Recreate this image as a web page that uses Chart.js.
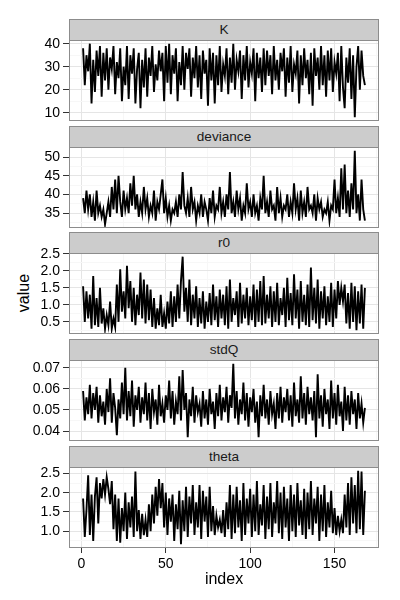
<!DOCTYPE html>
<html>
<head>
<meta charset="utf-8">
<script src="https://cdn.jsdelivr.net/npm/chart.js@4.4.0/dist/chart.umd.min.js"></script>
<style>
    body { margin: 0; background: #fff; }
    #wrap { position: relative; width: 400px; height: 600px; overflow: hidden; font-family: "Liberation Sans", Arial, sans-serif; color: #000; }
    .strip { position: absolute; left: 69px; width: 310px; height: 22px; background: #cccccc; border: 1px solid #8c8c8c; box-sizing: border-box; text-align: center; font-size: 13.6px; line-height: 20px; color: #1a1a1a; }
    canvas { position: absolute; left: 0; }
    .ylab { position: absolute; left: 24px; top: 293px; transform: translate(-50%, -50%) rotate(-90deg); font-size: 16px; white-space: nowrap; }
</style>
</head>
<body>
<div id="wrap">
    <div class="ylab">value</div>
</div>
<script>
// trace values, index 1..168
const kValues = [
    38, 22, 35, 28, 40, 14, 33, 19, 37, 26, 39, 17,
    36, 24, 38, 20, 34, 29, 39, 18, 32, 25, 38, 15,
    30, 22, 39, 16, 35, 27, 38, 14, 29, 36, 12, 33,
    21, 38, 17, 34, 26, 39, 19, 31, 24, 37, 28, 36,
    15, 39, 23, 40, 18, 35, 27, 38, 15, 32, 22, 39,
    20, 36, 29, 38, 17, 34, 25, 39, 21, 35, 16, 37,
    27, 33, 13, 38, 24, 36, 14, 35, 22, 39, 19, 31,
    26, 38, 18, 34, 23, 40, 20, 33, 28, 37, 16, 35,
    24, 39, 21, 32, 27, 38, 15, 36, 25, 34, 19, 38,
    22, 37, 26, 35, 18, 39, 24, 33, 20, 36, 28, 38,
    17, 34, 23, 39, 19, 31, 27, 37, 14, 35, 22, 38,
    25, 33, 18, 36, 13, 38, 26, 34, 20, 39, 22, 35,
    17, 37, 24, 38, 19, 32, 27, 36, 15, 39, 21, 12,
    34, 23, 38, 16, 35, 8, 30, 39, 20, 37, 26, 22
];
const devianceValues = [
    39, 35, 41, 36, 40, 34, 38, 33, 41, 35, 37, 34,
    36, 32, 35, 38, 34, 42, 36, 44, 35, 45, 38, 34,
    41, 36, 39, 35, 43, 37, 45, 36, 40, 34, 38, 35,
    42, 36, 39, 34, 37, 35, 41, 33, 38, 36, 40, 44,
    35, 39, 34, 37, 33, 36, 35, 38, 34, 40, 36, 46,
    37, 35, 39, 34, 42, 36, 38, 33, 37, 35, 40, 34,
    38, 36, 33, 39, 35, 41, 34, 37, 36, 42, 35, 38,
    34, 40, 36, 46, 35, 38, 34, 41, 36, 39, 33, 37,
    35, 43, 36, 38, 34, 40, 35, 37, 33, 39, 36, 45,
    35, 38, 34, 41, 36, 37, 33, 42, 35, 39, 34, 37,
    36, 40, 34, 38, 35, 43, 36, 39, 33, 41, 35, 38,
    34, 42, 36, 37, 35, 40, 33, 39, 36, 38, 34, 36,
    35, 38, 33, 37, 36, 44, 35, 39, 34, 47, 36, 48,
    35, 41, 34, 43, 36, 51.7, 35, 40, 33, 44, 36, 33
];
const r0Values = [
    1.55, 0.50, 1.40, 0.60, 1.30, 0.30, 1.85, 0.40, 1.20, 0.35, 1.50, 0.45,
    0.90, 0.30, 0.70, 0.40, 1.10, 0.30, 0.60, 0.35, 1.60, 0.50, 2.05, 0.80,
    1.40, 0.60, 2.15, 0.90, 1.70, 0.50, 1.50, 0.40, 1.30, 0.70, 1.95, 0.60,
    1.75, 0.45, 1.60, 0.55, 1.45, 0.35, 1.20, 0.30, 0.90, 0.40, 1.30, 0.35,
    0.75, 0.30, 1.10, 0.45, 1.40, 0.35, 1.25, 0.50, 1.60, 0.60, 1.70, 2.42,
    0.80, 1.50, 0.50, 1.75, 0.40, 1.30, 0.60, 1.55, 0.35, 1.20, 0.45, 1.40,
    0.30, 1.10, 0.50, 1.35, 0.40, 1.60, 0.55, 1.25, 0.35, 1.45, 0.60, 1.30,
    0.40, 1.55, 0.30, 1.75, 0.50, 1.20, 0.70, 1.40, 0.35, 1.65, 0.45, 1.30,
    0.60, 1.50, 0.40, 1.25, 0.55, 1.60, 0.35, 1.45, 0.50, 1.70, 0.40, 1.85,
    0.45, 1.30, 0.60, 1.55, 0.35, 1.40, 0.50, 1.65, 0.40, 1.20, 0.70, 1.50,
    0.35, 1.80, 0.55, 1.35, 0.40, 1.90, 0.60, 1.45, 0.30, 1.70, 0.50, 1.30,
    0.40, 1.60, 0.35, 2.10, 0.55, 1.50, 0.45, 1.75, 0.30, 1.40, 0.60, 1.55,
    0.40, 1.25, 0.50, 1.65, 0.35, 1.45, 0.60, 1.70, 1.00, 1.50, 1.10, 1.60,
    0.45, 1.35, 0.30, 1.65, 0.50, 1.55, 0.25, 1.40, 0.45, 1.60, 0.30, 1.50
];
const stdQValues = [
    0.059, 0.045, 0.056, 0.048, 0.062, 0.046, 0.058, 0.050, 0.061, 0.044, 0.057, 0.047,
    0.054, 0.043, 0.060, 0.049, 0.065, 0.044, 0.058, 0.051, 0.038, 0.055, 0.046, 0.063,
    0.048, 0.070, 0.045, 0.059, 0.047, 0.064, 0.042, 0.057, 0.050, 0.061, 0.044, 0.056,
    0.048, 0.063, 0.045, 0.058, 0.041, 0.060, 0.049, 0.055, 0.043, 0.062, 0.047, 0.053,
    0.044, 0.057, 0.050, 0.064, 0.046, 0.059, 0.043, 0.054, 0.048, 0.066, 0.045, 0.069,
    0.050, 0.058, 0.037, 0.055, 0.047, 0.061, 0.044, 0.057, 0.049, 0.053, 0.042, 0.059,
    0.046, 0.055, 0.043, 0.060, 0.048, 0.054, 0.041, 0.058, 0.047, 0.062, 0.045, 0.056,
    0.049, 0.061, 0.044, 0.057, 0.051, 0.072, 0.046, 0.059, 0.043, 0.055, 0.048, 0.063,
    0.045, 0.058, 0.042, 0.056, 0.049, 0.060, 0.044, 0.054, 0.037, 0.057, 0.047, 0.062,
    0.046, 0.055, 0.043, 0.059, 0.048, 0.053, 0.041, 0.058, 0.046, 0.061, 0.044, 0.056,
    0.049, 0.060, 0.045, 0.057, 0.042, 0.063, 0.047, 0.055, 0.044, 0.066, 0.046, 0.058,
    0.043, 0.061, 0.048, 0.056, 0.045, 0.059, 0.037, 0.067, 0.046, 0.057, 0.042, 0.060,
    0.048, 0.055, 0.041, 0.064, 0.046, 0.058, 0.043, 0.062, 0.047, 0.054, 0.040, 0.061,
    0.045, 0.057, 0.043, 0.059, 0.048, 0.055, 0.041, 0.058, 0.046, 0.053, 0.044, 0.051
];
const thetaValues = [
    1.85, 0.85, 1.55, 2.45, 0.90, 1.95, 0.75, 1.90, 2.40, 1.20, 2.25, 1.85,
    2.35, 1.95, 2.40, 2.10, 1.70, 2.30, 1.05, 1.95, 0.75, 1.85, 0.70, 1.60,
    1.00, 2.00, 0.80, 1.75, 1.10, 1.90, 0.85, 2.55, 1.00, 1.55, 0.80, 1.45,
    0.90, 1.30, 0.85, 1.70, 1.00, 1.95, 1.20, 2.15, 1.40, 2.35, 1.60, 2.25,
    1.10, 2.00, 0.90, 1.85, 1.25, 1.95, 0.75, 1.70, 1.05, 2.05, 0.66, 1.80,
    1.00, 2.15, 0.85, 1.90, 1.20, 2.20, 0.90, 1.75, 1.10, 2.20, 0.80, 2.05,
    1.25, 1.90, 0.85, 2.15, 1.00, 1.65, 0.90, 1.40, 1.10, 1.30, 0.95, 1.55,
    0.85, 1.75, 1.05, 2.20, 0.80, 1.95, 0.95, 2.15, 1.10, 1.80, 0.75, 2.25,
    0.90, 1.85, 1.20, 2.10, 0.85, 1.95, 1.00, 2.30, 0.90, 1.70, 1.15, 2.20,
    0.80, 1.90, 1.05, 2.25, 0.85, 1.75, 1.20, 2.30, 0.95, 2.00, 0.80, 2.15,
    1.10, 1.85, 0.75, 2.20, 1.00, 1.95, 0.85, 2.25, 1.15, 1.80, 0.90, 2.10,
    0.80, 2.00, 1.05, 2.30, 0.90, 1.85, 1.20, 2.15, 0.75, 1.95, 1.00, 2.20,
    0.85, 1.75, 1.10, 2.05, 0.95, 1.60, 0.90, 1.40, 1.00, 1.30, 0.95, 1.95,
    1.10, 2.25, 0.90, 2.40, 1.20, 2.20, 0.95, 2.57, 1.05, 2.55, 0.90, 2.05
];

const panelNames = ["K", "deviance", "r0", "stdQ", "theta"];
const panelValues = [kValues, devianceValues, r0Values, stdQValues, thetaValues];

const yMajorTicks = [[10, 20, 30, 40], [35, 40, 45, 50], [0.5, 1.0, 1.5, 2.0, 2.5], [0.04, 0.05, 0.06, 0.07], [1.0, 1.5, 2.0, 2.5]];
const yTickLabels = [["10", "20", "30", "40"], ["35", "40", "45", "50"], ["0.5", "1.0", "1.5", "2.0", "2.5"], ["0.04", "0.05", "0.06", "0.07"], ["1.0", "1.5", "2.0", "2.5"]];
const yMinorTicks = [[15, 25, 35], [32.5, 37.5, 42.5, 47.5, 52.5], [0.25, 0.75, 1.25, 1.75, 2.25], [0.045, 0.055, 0.065], [0.75, 1.25, 1.75, 2.25]];
const xMajorTicks = [0, 50, 100, 150];
const xTickLabels = ["0", "50", "100", "150"];
const xMinorTicks = [25, 75, 125, 175];

const plotTops = [40, 147, 253, 360, 467];
const plotHeight = 81;
const headroom = 12;

const wrap = document.getElementById("wrap");

const panelBorder = {
    id: "panelBorder",
    afterDatasetsDraw(chart) {
        const a = chart.chartArea;
        const ctx = chart.ctx;
        ctx.save();
        ctx.strokeStyle = "#8c8c8c";
        ctx.lineWidth = 1;
        ctx.strokeRect(Math.round(a.left) + 0.5, Math.round(a.top) + 0.5, Math.round(a.right - a.left) - 1, Math.round(a.bottom - a.top) - 1);
        ctx.restore();
    }
};

function gridColor(majors) {
    return ctx => majors.includes(ctx.tick && ctx.tick.value) ? "#e5e5e5" : "#f7f7f7";
}
function tickMarkColor(majors) {
    return ctx => majors.includes(ctx.tick && ctx.tick.value) ? "#333333" : "rgba(0,0,0,0)";
}

function addPanel(p) {
    const last = p === panelNames.length - 1;
    const values = panelValues[p];

    const strip = document.createElement("div");
    strip.className = "strip";
    strip.style.top = (plotTops[p] - 21) + "px";
    strip.textContent = panelNames[p];
    wrap.appendChild(strip);

    const canvas = document.createElement("canvas");
    const top = plotTops[p] - headroom;
    canvas.width = 400;
    canvas.height = last ? 600 - top : plotHeight + 2 * headroom;
    canvas.style.top = top + "px";
    wrap.appendChild(canvas);

    const points = values.map((v, i) => ({ x: i + 1, y: v }));
    const lo = Math.min(...values), hi = Math.max(...values);
    const pad = (hi - lo) * 0.05;
    const n = values.length;
    const xpad = (n - 1) * 0.05;

    const yMajors = yMajorTicks[p];
    const yAll = yMajors.concat(yMinorTicks[p]);
    const xAll = xMajorTicks.concat(xMinorTicks);

    new Chart(canvas.getContext("2d"), {
        type: "line",
        data: {
            datasets: [{
                data: points,
                borderColor: "#000",
                borderWidth: 1.9,
                pointRadius: 0,
                tension: 0,
                fill: false
            }]
        },
        options: {
            responsive: false,
            animation: false,
            layout: { padding: { top: headroom, bottom: last ? 0 : headroom, left: 0, right: 21 } },
            plugins: { legend: { display: false }, tooltip: { enabled: false } },
            scales: {
                x: {
                    type: "linear",
                    min: 1 - xpad,
                    max: n + xpad,
                    afterBuildTicks: s => { s.ticks = xAll.map(v => ({ value: v })); },
                    afterFit: s => { s.height = last ? 52 : 0; },
                    border: { display: false },
                    grid: {
                        color: gridColor(xMajorTicks),
                        tickColor: tickMarkColor(xMajorTicks),
                        lineWidth: 1,
                        drawTicks: last,
                        tickLength: 5
                    },
                    ticks: {
                        display: last,
                        autoSkip: false,
                        maxRotation: 0,
                        padding: 3,
                        color: "#000",
                        font: { family: "'Liberation Sans', Arial, sans-serif", size: 14 },
                        callback: v => {
                            const k = xMajorTicks.indexOf(v);
                            return k >= 0 ? xTickLabels[k] : "";
                        }
                    },
                    title: {
                        display: last,
                        text: "index",
                        color: "#000",
                        font: { family: "'Liberation Sans', Arial, sans-serif", size: 16 },
                        padding: { top: 0, bottom: 11 }
                    }
                },
                y: {
                    min: lo - pad,
                    max: hi + pad,
                    afterBuildTicks: s => { s.ticks = yAll.map(v => ({ value: v })); },
                    afterFit: s => { s.width = 69; },
                    border: { display: false },
                    grid: {
                        color: gridColor(yMajors),
                        tickColor: tickMarkColor(yMajors),
                        lineWidth: 1,
                        tickLength: 6
                    },
                    ticks: {
                        autoSkip: false,
                        padding: 3,
                        color: "#000",
                        font: { family: "'Liberation Sans', Arial, sans-serif", size: 14 },
                        callback: v => {
                            const k = yMajors.indexOf(v);
                            return k >= 0 ? yTickLabels[p][k] : "";
                        }
                    }
                }
            }
        },
        plugins: [panelBorder]
    });
}

panelNames.forEach((_, p) => addPanel(p));
</script>
</body>
</html>
